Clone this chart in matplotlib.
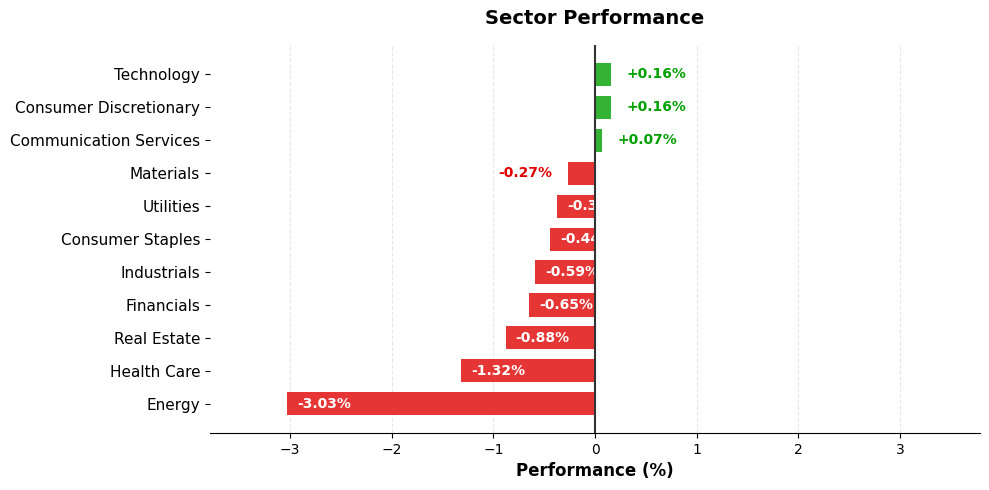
import matplotlib

matplotlib.use("Agg")
import matplotlib.pyplot as plt
import numpy as np

sectors = [
    "Energy",
    "Health Care",
    "Real Estate",
    "Financials",
    "Industrials",
    "Consumer Staples",
    "Utilities",
    "Materials",
    "Communication Services",
    "Consumer Discretionary",
    "Technology",
]
performance = [-3.03, -1.32, -0.88, -0.65, -0.59, -0.44, -0.37, -0.27, 0.07, 0.16, 0.16]

POS_BAR = "#33b233"
NEG_BAR = "#e53535"
POS_TEXT = "#00a000"
NEG_TEXT = "#e00000"

fig, ax = plt.subplots(figsize=(9.89, 4.9), dpi=100)
y = np.arange(len(sectors))
colors = [POS_BAR if v >= 0 else NEG_BAR for v in performance]
ax.barh(y, performance, height=0.7, color=colors, zorder=2)

for yi, v in zip(y, performance):
    label = f"{v:+.2f}%"
    if v >= 0:
        ax.text(v + 0.15, yi, label, ha="left", va="center", fontsize=10,
                fontweight="bold", color=POS_TEXT, zorder=3)
    elif abs(v) < 0.3:
        ax.text(v - 0.15, yi, label, ha="right", va="center", fontsize=10,
                fontweight="bold", color=NEG_TEXT, zorder=3)
    else:
        ax.text(v + 0.1, yi, label, ha="left", va="center", fontsize=10,
                fontweight="bold", color="white", zorder=3)

lim = max(abs(v) for v in performance) * 1.25
ax.set_xlim(-lim, lim)
ax.axvline(0, color="#333333", linewidth=1.5, zorder=4)
ax.set_yticks(y)
ax.set_yticklabels(sectors, fontsize=11)
ax.set_xlabel("Performance (%)", fontsize=12, fontweight="bold")
ax.set_title("Sector Performance", fontsize=14, fontweight="bold", pad=15)
ax.grid(axis="x", linestyle="--", alpha=0.3, zorder=0)
for side in ("top", "right", "left"):
    ax.spines[side].set_visible(False)

fig.subplots_adjust(left=0.2123, right=0.991, top=0.908, bottom=0.1163)
fig.savefig("out.png", dpi=100)
plt.close(fig)
